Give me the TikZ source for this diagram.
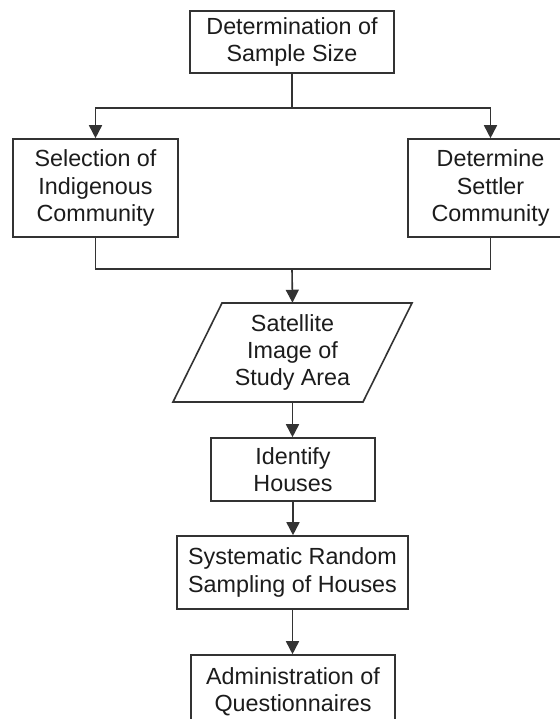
\documentclass[tikz,border=0pt]{standalone}
\usepackage{fontspec}
\setmainfont{Liberation Sans}
\usetikzlibrary{arrows.meta}
\definecolor{linegray}{HTML}{333333}
\definecolor{textgray}{HTML}{1C1C1C}
\begin{document}
\begin{tikzpicture}[x=0.75pt,y=-0.75pt,
  every node/.style={font=\fontsize{17.5}{20.5}\selectfont, text=textgray, align=center, inner sep=0pt},
  procbox/.style={draw=linegray, line width=1.2pt, rectangle},
  link/.style={draw=linegray, line width=1.2pt},
  arr/.style={link, -{Triangle[length=9.75pt,width=9.75pt]}}]
\clip (0,0) rectangle (560,719);
\fill[white] (0,0) rectangle (560,719);

% process boxes
\node[procbox, minimum width=153pt, minimum height=46.5pt] (size) at (292,42) {Determination of\\Sample Size};
\node[procbox, minimum width=123.75pt, minimum height=73.5pt] (indig) at (95.5,188) {Selection of\\Indigenous\\Community};
\node[procbox, minimum width=123.75pt, minimum height=73.5pt] (settler) at (490.5,188) {Determine\\Settler\\Community};

% data (parallelogram)
\draw[link] (222,303) -- (412,303) -- (363,402) -- (173,402) -- cycle;
\node[minimum width=120pt, minimum height=74.25pt] (sat) at (292.5,352.5) {Satellite\\Image of\\Study Area};

\node[procbox, minimum width=123pt, minimum height=47.25pt] (ident) at (293,469.5) {Identify\\Houses};
\node[procbox, minimum width=173.25pt, minimum height=54.75pt] (sys) at (292.5,572.5) {Systematic Random\\Sampling of Houses};
\node[procbox, minimum width=153pt, minimum height=54.75pt] (admin) at (293,691.5) {Administration of\\Questionnaires};

% branching and merging connectors
\coordinate (split) at (292,108);
\coordinate (merge) at (292,269);
\draw[link] (size.south) -- (split);
\draw[arr] (split) -| (indig.north);
\draw[arr] (split) -| (settler.north);
\draw[link] (indig.south) |- (merge);
\draw[link] (settler.south) |- (merge);
\draw[arr] (merge) -- (sat.north);

% straight chain
\draw[arr] (sat.south) -- (sat.south |- ident.north);
\draw[arr] (ident.south) -- (ident.south |- sys.north);
\draw[arr] (sys.south) -- (sys.south |- admin.north);
\end{tikzpicture}
\end{document}
